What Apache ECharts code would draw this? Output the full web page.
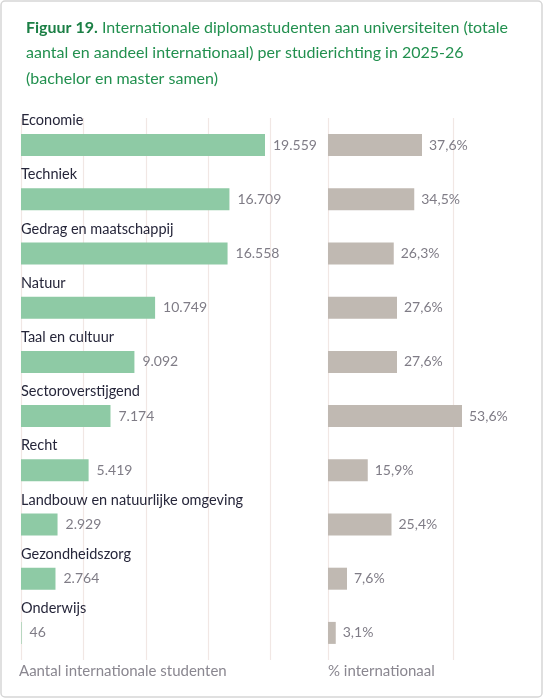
<!DOCTYPE html>
<html><head><meta charset="utf-8">
<script src="https://cdn.jsdelivr.net/npm/echarts@6/dist/echarts.min.js"></script>
<style>html,body{margin:0;padding:0;background:#fff}#c{width:544px;height:699px}</style>
</head><body><div id="c"></div>
<script>
const categories = ["Economie","Techniek","Gedrag en maatschappij","Natuur","Taal en cultuur","Sectoroverstijgend","Recht","Landbouw en natuurlijke omgeving","Gezondheidszorg","Onderwijs"];
const students = [19559,16709,16558,10749,9092,7174,5419,2929,2764,46];
const shareIntl = [37.6,34.5,26.3,27.6,27.6,53.6,15.9,25.4,7.6,3.1];
const leftAxisTitle = "Aantal internationale studenten";
const rightAxisTitle = "% internationaal";

const FONT = "Lato";
const fmtInt = v => String(v).replace(/\B(?=(\d{3})+(?!\d))/g, ".");
const fmtPct = v => v.toFixed(1).replace(".", ",") + "%";

const chart = echarts.init(document.getElementById('c'), null, {renderer:'canvas'});
const gridLine = {show:true, lineStyle:{color:'#f1e7e4', width:1.2}};
chart.setOption({
  animation:false,
  backgroundColor:'#fff',
  title:{
    left:21, top:10,
    text:"{b|Figuur 19.} Internationale diplomastudenten aan universiteiten (totale\naantal en aandeel internationaal) per studierichting in 2025-26\n(bachelor en master samen)",
    textStyle:{
      fontFamily:FONT, fontSize:16, color:'#22904f', lineHeight:25.5, fontWeight:'normal',
      rich:{b:{fontFamily:FONT, fontSize:16, fontWeight:'bold', color:'#1b7f45', lineHeight:25.5}}
    }
  },
  graphic:[
    {type:'rect', shape:{x:1,y:1,width:541,height:696,r:4}, style:{fill:'none', stroke:'#d6d6d6', lineWidth:1.5}, silent:true, z:-1},
    {type:'text', left:19, top:664, style:{text:leftAxisTitle, font:'15px '+FONT, fill:'#8a8790'}},
    {type:'text', left:328, top:664, style:{text:rightAxisTitle, font:'15px '+FONT, fill:'#8a8790'}}
  ],
  grid:[
    {left:21, top:118, width:249.5, height:542},
    {left:328, top:118, width:125, height:542}
  ],
  xAxis:[
    {gridIndex:0, type:'value', min:0, max:20000, interval:5000, axisLabel:{show:false}, axisLine:{show:false}, axisTick:{show:false}, splitLine:gridLine},
    {gridIndex:1, type:'value', min:0, max:50, interval:50, axisLabel:{show:false}, axisLine:{show:false}, axisTick:{show:false}, splitLine:gridLine}
  ],
  yAxis:[
    {gridIndex:0, type:'category', data:categories, inverse:true, axisLine:{show:false}, axisTick:{show:false},
     axisLabel:{inside:true, margin:0, align:'left', verticalAlign:'bottom', padding:[0,0,17,0], fontFamily:FONT, fontSize:14.5, color:'#26263a'}},
    {gridIndex:1, type:'category', data:categories, inverse:true, axisLine:{show:false}, axisTick:{show:false}, axisLabel:{show:false}}
  ],
  series:[
    {type:'bar', xAxisIndex:0, yAxisIndex:0, data:students, barWidth:22, itemStyle:{color:'#8ecaa5'},
     label:{show:true, position:'right', distance:8, formatter:p=>fmtInt(p.value), fontFamily:FONT, fontSize:14, color:'#7f7c86'}},
    {type:'bar', xAxisIndex:1, yAxisIndex:1, data:shareIntl, barWidth:22, clip:false, itemStyle:{color:'#c0b9b2'},
     label:{show:true, position:'right', distance:7, formatter:p=>fmtPct(p.value), fontFamily:FONT, fontSize:14, color:'#7f7c86'}}
  ]
});
</script></body></html>
